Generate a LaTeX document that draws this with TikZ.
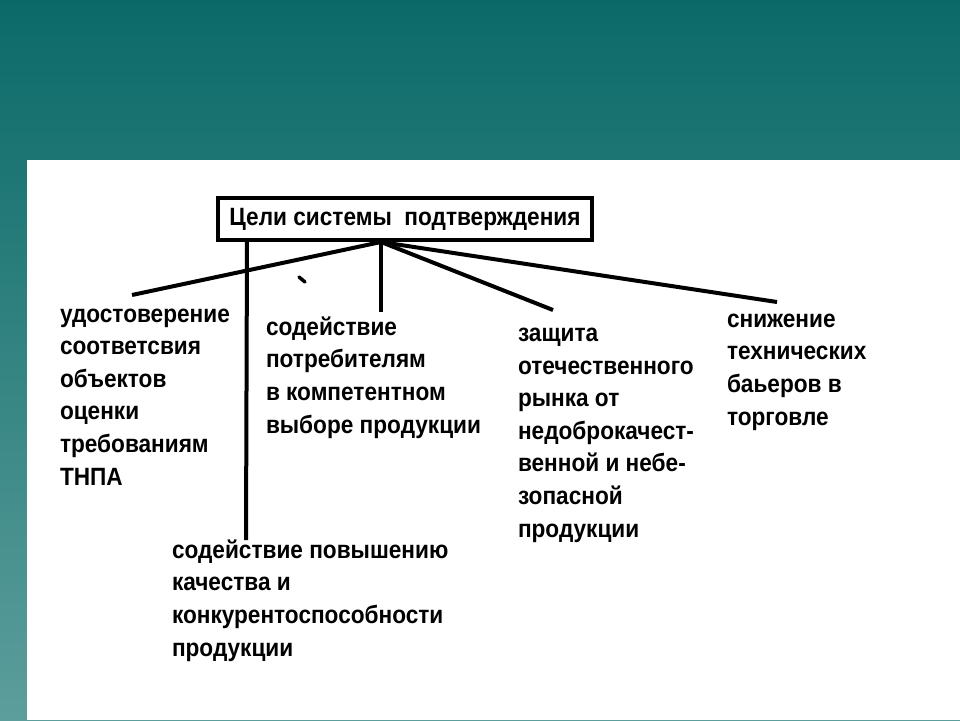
\documentclass[tikz,border=0pt]{standalone}
\usepackage{fontspec}
\setmainfont{Liberation Sans}[FakeStretch=0.905]
\usepackage{tikz}
\usepackage{xcolor}
\usetikzlibrary{positioning}
\definecolor{slidetop}{HTML}{0B6A68}
\definecolor{slidebot}{HTML}{5C9E9C}

\begin{document}
\begin{tikzpicture}
  [x=1pt,y=-1pt,line width=4pt,
   every node/.style={inner sep=0pt,outer sep=0pt,align=left,anchor=base west,
     font=\fontsize{25}{32.6}\selectfont\bfseries}]
  \useasboundingbox (0,0) rectangle (960,720);
  \fill[top color=slidetop,bottom color=slidebot,draw=none] (0,0) rectangle (960,720);
  \fill[white] (27,160) rectangle (960,720);

  \node[draw,line width=4pt,minimum width=374pt,minimum height=42pt,anchor=north west,
        font=\fontsize{25}{30}\selectfont\bfseries] (goal) at (218,198) {Цели системы\ \ подтверждения};

  % base anchor = last line
  \node (t1) at (60,485) {удостоверение\\соответсвия\\объектов\\оценки\\требованиям\\ТНПА};
  \node (t2) at (266,433) {содействие\\потребителям\\в компетентном\\выборе продукции};
  \node (t3) at (172,656) {содействие повышению\\качества и\\конкурентоспособности\\продукции};
  \node (t4) at (518,537) {защита\\отечественного\\рынка от\\недоброкачест-\\венной и небе-\\зопасной\\продукции};
  \node (t5) at (727,425) {снижение\\технических\\баьеров в\\торговле};

  \coordinate (hub) at (381,242);
  \coordinate (e1) at (132,295);
  \coordinate (e2) at (381,312);
  \coordinate (e4) at (553,310);
  \coordinate (e5) at (777,302);
  \coordinate (lt) at (247,240);
  \coordinate (lb) at (246,540);

  \foreach \to in {e1,e2,e4,e5}
    \draw (hub) -- (\to);
  \draw (lt) -- (lb);
  \draw[line width=3.5pt,line cap=round] (299,277) -- (305,282);

\end{tikzpicture}
\end{document}
